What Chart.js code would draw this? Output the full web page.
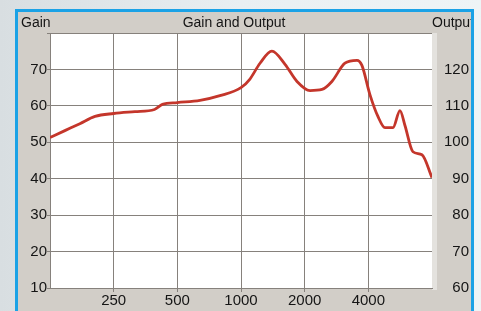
<!DOCTYPE html>
<html>
<head>
<meta charset="utf-8">
<script src="https://cdn.jsdelivr.net/npm/chart.js@4"></script>
<style>
    body { margin: 0; background: #e8eef1; }
    #chart { display: block; }
</style>
</head>
<body>
<canvas id="chart" width="481" height="311"></canvas>
<script>
// frequency (Hz) of each measured point
const frequencies = [125, 147, 173, 204, 250, 315, 390, 425, 500, 640, 795, 1000, 1100, 1230, 1400, 1615,
    1840, 2120, 2415, 2690, 3100, 3535, 3730, 4070, 4440, 4795, 5230, 5645, 5960, 6500, 7170, 8000];
// gain (dB)
const gain = [51.3, 53.2, 55.1, 57.1, 57.9, 58.4, 59.0, 60.4, 60.9, 61.5, 62.8, 65.0, 67.3, 71.7, 75.0, 71.4,
    66.7, 64.2, 64.5, 66.7, 71.7, 72.5, 71.1, 63.1, 57.1, 54.0, 54.0, 58.7, 54.6, 47.4, 46.6, 40.3];
const freqTicks = [250, 500, 1000, 2000, 4000];
const gainRange = [10, 80];
const outputRange = [60, 130];

const tickFont = { family: 'Liberation Sans', size: 15 };
const gridColor = '#86817c';

// panel, frame and headings
const panelPlugin = {
    id: 'panel',
    beforeDraw(chart) {
        const ctx = chart.ctx;
        const area = chart.chartArea;
        ctx.save();
        let bg = ctx.createLinearGradient(0, 0, chart.width, 0);
        bg.addColorStop(0, '#d8dee1');
        bg.addColorStop(0.5, '#e9eff2');
        bg.addColorStop(1, '#eef4f6');
        ctx.fillStyle = bg;
        ctx.fillRect(0, 0, chart.width, chart.height);

        ctx.fillStyle = '#d2cec8';
        ctx.fillRect(17, 11, 456, chart.height - 11);

        ctx.fillStyle = '#e4e2de';
        ctx.fillRect(area.right, area.top, 5, area.bottom - area.top + 2);

        ctx.fillStyle = '#ffffff';
        ctx.fillRect(area.left, area.top, area.right - area.left, area.bottom - area.top);
        ctx.restore();
    },
    afterDraw(chart) {
        const ctx = chart.ctx;
        ctx.save();
        ctx.beginPath();
        ctx.rect(18, 12, 453, 30);
        ctx.clip();
        ctx.fillStyle = '#151515';
        ctx.font = '14px "Liberation Sans"';
        ctx.textBaseline = 'alphabetic';
        ctx.textAlign = 'left';
        ctx.fillText('Gain', 21, 27);
        ctx.fillText('Output', 432, 27);
        ctx.textAlign = 'center';
        ctx.fillText('Gain and Output', 234, 27);
        ctx.restore();

        ctx.save();
        ctx.strokeStyle = '#1ba2e6';
        ctx.lineWidth = 3;
        ctx.beginPath();
        ctx.moveTo(16.5, chart.height);
        ctx.lineTo(16.5, 10.5);
        ctx.lineTo(472.5, 10.5);
        ctx.lineTo(472.5, chart.height);
        ctx.stroke();
        ctx.restore();
    }
};

new Chart(document.getElementById('chart'), {
    type: 'line',
    data: {
        datasets: [{
            label: 'Gain',
            data: frequencies.map((f, i) => ({ x: f, y: gain[i] })),
            borderColor: '#c4362b',
            borderWidth: 2.8,
            pointRadius: 0,
            cubicInterpolationMode: 'monotone',
            fill: false
        }]
    },
    options: {
        responsive: false,
        animation: false,
        layout: { padding: { left: 0, right: 12, top: 33, bottom: 0 } },
        plugins: {
            legend: { display: false },
            tooltip: { enabled: false }
        },
        scales: {
            x: {
                type: 'logarithmic',
                min: frequencies[0],
                max: frequencies[frequencies.length - 1],
                afterBuildTicks: function (scale) {
                    scale.ticks = freqTicks.map(v => ({ value: v }));
                },
                afterFit: function (scale) {
                    scale.height = 23;
                },
                grid: { color: gridColor, tickLength: 4 },
                border: { color: gridColor },
                ticks: {
                    font: tickFont,
                    color: '#151515',
                    padding: 0,
                    maxRotation: 0,
                    autoSkip: false,
                    callback: function (value) {
                        return String(value);
                    }
                }
            },
            y: {
                min: gainRange[0],
                max: gainRange[1],
                afterFit: function (scale) {
                    scale.width = 50;
                },
                grid: { color: gridColor, tickLength: 3 },
                border: { color: gridColor },
                ticks: {
                    stepSize: 10,
                    font: tickFont,
                    color: '#151515',
                    padding: 0,
                    callback: function (value) {
                        return value === gainRange[1] ? '' : value;
                    }
                }
            },
            y2: {
                position: 'right',
                min: outputRange[0],
                max: outputRange[1],
                afterFit: function (scale) {
                    scale.width = 37;
                },
                grid: { drawOnChartArea: false, drawTicks: false },
                border: { display: false },
                ticks: {
                    stepSize: 10,
                    font: tickFont,
                    color: '#151515',
                    crossAlign: 'far',
                    padding: 8,
                    callback: function (value) {
                        return value === outputRange[1] ? '' : value;
                    }
                }
            }
        }
    },
    plugins: [panelPlugin]
});
</script>
</body>
</html>
